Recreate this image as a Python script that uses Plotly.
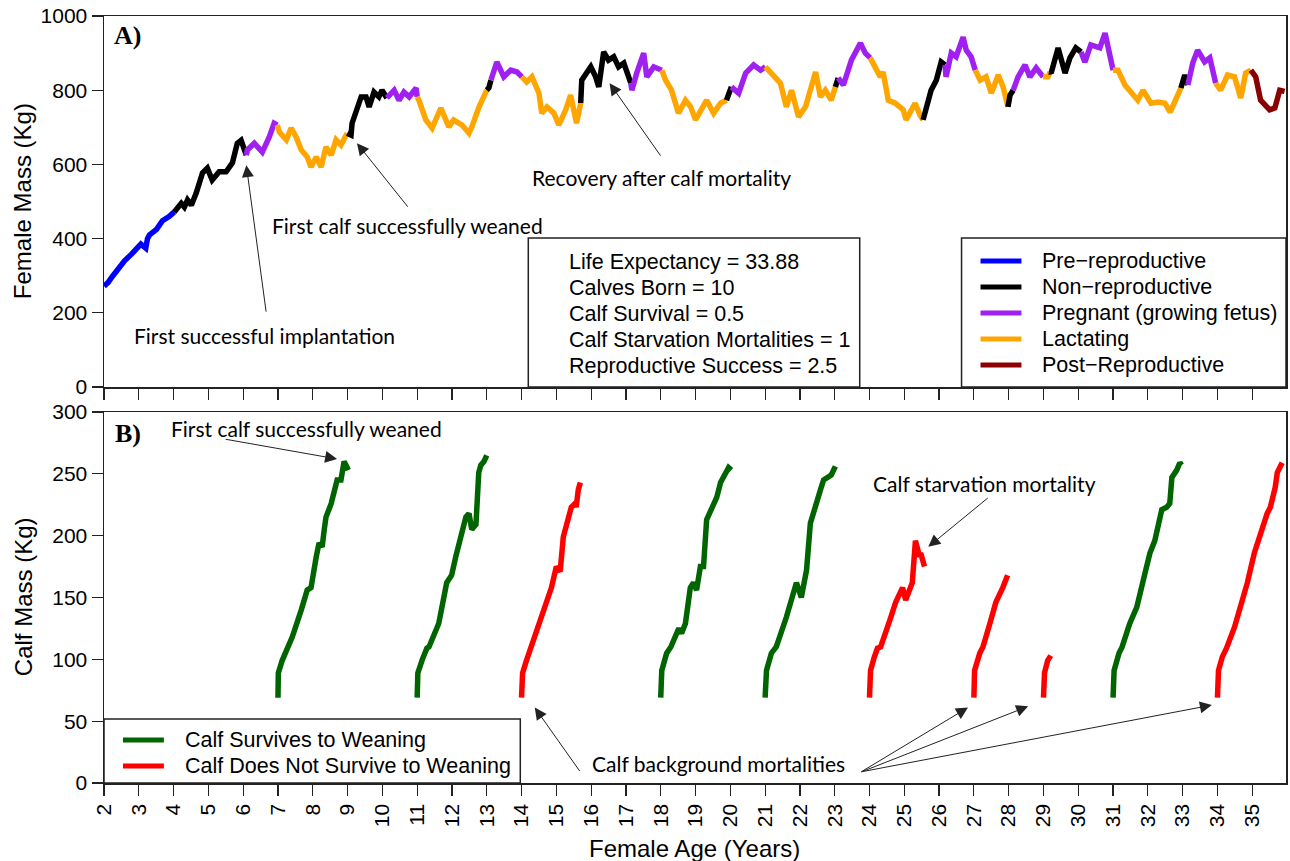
import plotly.graph_objects as go

# ---------------- DATA ----------------
female_age = [
    2.00, 2.12, 2.24, 2.39, 2.52, 2.59, 2.79, 2.96, 3.06, 3.12, 3.20, 3.25, 3.31, 3.51, 3.60, 3.68, 3.88, 4.02,
    4.10, 4.22, 4.31, 4.40, 4.51, 4.65, 4.83, 4.97, 5.11, 5.31, 5.51, 5.69, 5.83, 5.94, 6.09,
    6.12, 6.32, 6.55, 6.75, 6.89, 6.98,
    7.04, 7.24, 7.38, 7.52, 7.67, 7.84, 7.95, 8.10, 8.24, 8.38, 8.53, 8.67, 8.81, 8.99,
    9.10, 9.13, 9.27, 9.39, 9.53, 9.62, 9.76, 9.90, 9.99, 10.13,
    10.34, 10.48, 10.62, 10.77, 10.97, 11.00,
    11.05, 11.25, 11.43, 11.68, 11.91, 12.05, 12.29, 12.49, 12.57, 12.78, 13.00,
    13.06, 13.12,
    13.29, 13.49, 13.69, 13.87, 14.01,
    14.15, 14.30, 14.50, 14.58, 14.73, 14.93, 15.07, 15.27, 15.41, 15.58, 15.70,
    15.73, 15.99, 16.13, 16.22, 16.36, 16.50, 16.65, 16.79, 16.94, 17.14,
    17.17, 17.31, 17.51, 17.60, 17.80, 18.03,
    18.14, 18.31, 18.51, 18.71, 18.86, 19.00, 19.17, 19.32, 19.52, 19.72, 19.89,
    20.03,
    20.24, 20.44, 20.67, 20.87, 21.01,
    21.18, 21.44, 21.61, 21.76, 21.96, 22.16, 22.45, 22.59, 22.73, 22.90, 23.02,
    23.10,
    23.25, 23.48, 23.74, 23.88, 24.02,
    24.17, 24.31, 24.39, 24.54, 24.74, 24.97, 25.05, 25.31, 25.45, 25.54,
    25.63, 25.77, 25.92, 26.06, 26.17,
    26.20, 26.35, 26.49, 26.69, 26.78, 26.92, 27.04,
    27.18, 27.35, 27.50, 27.70, 27.84, 27.98,
    28.04, 28.13,
    28.27, 28.47, 28.61, 28.79, 28.99,
    29.13, 29.19,
    29.22, 29.42, 29.62, 29.76, 29.93, 30.08,
    30.19, 30.36, 30.62, 30.77, 30.91, 31.00,
    31.14, 31.34, 31.51, 31.71, 31.86, 32.09, 32.29, 32.49, 32.64, 32.78, 32.95,
    33.06, 33.15,
    33.29, 33.43, 33.63, 33.78, 33.95,
    34.09, 34.29, 34.49, 34.67, 34.81, 34.96,
    35.10, 35.24, 35.39, 35.50, 35.65, 35.79, 35.93,
]
female_mass = [
    272, 282, 298, 318, 335, 340, 358, 376, 385, 380, 374, 400, 410, 425, 440, 448, 460, 472,
    480, 495, 485, 504, 490, 523, 577, 590, 558, 580, 580, 604, 657, 665, 625,
    639, 657, 633, 674, 711, 706,
    687, 666, 698, 674, 639, 620, 593, 620, 593, 647, 625, 666, 652, 684,
    679, 711, 747, 782, 782, 755, 795, 782, 800, 779,
    800, 773, 795, 782, 806, 782,
    773, 720, 698, 752, 701, 720, 706, 684, 701, 755, 800,
    806, 827,
    876, 836, 854, 849, 836,
    822, 836, 792, 738, 755, 738, 706, 747, 787, 711, 765,
    827, 863, 836, 809, 903, 881, 890, 863, 873, 819,
    800, 846, 900, 836, 863, 854,
    827, 800, 738, 773, 755, 720, 747, 773, 738, 765, 773,
    809,
    792, 846, 868, 854, 863,
    846, 819, 755, 800, 728, 755, 849, 782, 800, 773, 809,
    833,
    814, 881, 927, 900, 887,
    863, 836, 849, 773, 765, 747, 720, 765, 733, 720,
    755, 800, 827, 876, 868,
    836, 900, 890, 943, 908, 890, 854,
    827, 836, 792, 841, 809, 755,
    787, 800,
    836, 868, 836, 860, 836,
    836, 849,
    846, 914, 846, 887, 914, 903,
    876, 922, 914, 954, 881, 854,
    854, 814, 795, 773, 800, 765, 768, 765, 741, 768, 806,
    841, 814,
    873, 908, 876, 887, 819,
    800, 841, 836, 779, 846, 854,
    836, 773, 760, 747, 752, 800, 797,
]
female_state = (
    ["Pre"] * 18 + ["Non"] * 15 + ["Preg"] * 6 + ["Lac"] * 14 + ["Non"] * 10 + ["Preg"] * 6
    + ["Lac"] * 11 + ["Non"] * 2 + ["Preg"] * 5 + ["Lac"] * 11 + ["Non"] * 10 + ["Preg"] * 6
    + ["Lac"] * 11 + ["Non"] * 1 + ["Preg"] * 5 + ["Lac"] * 11 + ["Non"] * 1 + ["Preg"] * 5
    + ["Lac"] * 10 + ["Non"] * 5 + ["Preg"] * 7 + ["Lac"] * 6 + ["Non"] * 2 + ["Preg"] * 5
    + ["Lac"] * 2 + ["Non"] * 6 + ["Preg"] * 6 + ["Lac"] * 11 + ["Non"] * 2 + ["Preg"] * 5
    + ["Lac"] * 6 + ["Post"] * 7
)

state_names = ["Pre\u2212reproductive", "Non\u2212reproductive", "Pregnant (growing fetus)", "Lactating", "Post\u2212Reproductive"]
state_keys = ["Pre", "Non", "Preg", "Lac", "Post"]

calf_ages = [
    [7.00, 7.01, 7.12, 7.27, 7.32, 7.41, 7.67, 7.84, 7.95, 7.98, 8.10, 8.18, 8.27, 8.33, 8.38, 8.53, 8.61, 8.70, 8.81, 8.90, 8.99, 9.02],
    [11.00, 11.02, 11.15, 11.28, 11.34, 11.62, 11.85, 11.99, 12.11, 12.26, 12.40, 12.49, 12.57, 12.69, 12.77, 12.83, 12.92, 13.00],
    [14.00, 14.03, 14.14, 14.26, 14.40, 14.57, 14.72, 14.86, 15.00, 15.11, 15.20, 15.35, 15.43, 15.54, 15.57, 15.63, 15.69],
    [18.00, 18.03, 18.17, 18.29, 18.52, 18.60, 18.71, 18.85, 18.94, 19.03, 19.14, 19.23, 19.32, 19.46, 19.61, 19.72, 19.86, 19.95, 20.03],
    [21.00, 21.04, 21.18, 21.32, 21.61, 21.81, 21.90, 22.04, 22.16, 22.19, 22.30, 22.45, 22.59, 22.68, 22.82, 22.90, 23.02],
    [24.00, 24.03, 24.14, 24.23, 24.32, 24.52, 24.60, 24.75, 24.86, 24.95, 25.04, 25.15, 25.23, 25.32, 25.44, 25.47, 25.58],
    [27.00, 27.02, 27.17, 27.26, 27.46, 27.63, 27.83, 27.97],
    [29.00, 29.03, 29.12, 29.21],
    [31.00, 31.03, 31.17, 31.26, 31.48, 31.68, 31.92, 32.06, 32.20, 32.32, 32.40, 32.54, 32.63, 32.69, 32.83, 32.92, 32.97],
    [34.00, 34.03, 34.14, 34.26, 34.49, 34.66, 34.86, 35.06, 35.24, 35.35, 35.43, 35.52, 35.66, 35.72, 35.86],
]
calf_masses = [
    [69, 89, 99, 109, 110, 118, 140, 156, 158, 164, 183, 194, 191, 205, 215, 226, 237, 245, 245, 260, 255, 253],
    [69, 89, 100, 109, 110, 129, 162, 168, 183, 199, 215, 218, 205, 209, 251, 257, 260, 265],
    [69, 89, 99, 109, 118, 134, 148, 158, 175, 171, 199, 215, 223, 226, 223, 237, 243],
    [69, 91, 105, 110, 125, 121, 129, 158, 162, 156, 175, 175, 213, 223, 231, 243, 251, 255, 253],
    [69, 91, 105, 110, 134, 154, 162, 150, 170, 172, 210, 226, 237, 245, 247, 249, 256],
    [69, 91, 102, 109, 110, 129, 133, 146, 154, 158, 148, 158, 162, 196, 183, 186, 175],
    [69, 91, 105, 110, 129, 146, 158, 168],
    [69, 89, 99, 103],
    [69, 91, 105, 110, 129, 142, 170, 186, 196, 210, 221, 223, 226, 247, 253, 259, 257],
    [69, 91, 102, 109, 126, 142, 162, 186, 202, 210, 218, 223, 239, 251, 259],
]
calf_survived = [True, True, False, True, True, False, False, False, True, False]
calf_names = ["Calf Survives to Weaning", "Calf Does Not Survive to Weaning"]

stats_lines = [
    "Life Expectancy = 33.88",
    "Calves Born = 10",
    "Calf Survival = 0.5",
    "Calf Starvation Mortalities = 1",
    "Reproductive Success = 2.5",
]

# ---------------- STYLE ----------------
state_colors = {"Pre": "#0000FF", "Non": "#000000", "Preg": "#A020F0", "Lac": "#FFA500", "Post": "#8B0000"}
calf_colors = {True: "#006400", False: "#FF0000"}
AX = "Liberation Sans, Arial, sans-serif"
ANN = "Lato, Open Sans, sans-serif"
LW = 5.5

fig = go.Figure()

start = 0
n = len(female_age)
for i in range(1, n + 1):
    if i == n or female_state[i] != female_state[start]:
        s0 = max(start - 1, 0)
        fig.add_trace(go.Scatter(
            x=female_age[s0:i], y=female_mass[s0:i], mode="lines",
            line=dict(color=state_colors[female_state[start]], width=LW),
            showlegend=False, xaxis="x", yaxis="y", hoverinfo="skip"))
        start = i

for ages, masses, surv in zip(calf_ages, calf_masses, calf_survived):
    fig.add_trace(go.Scatter(
        x=ages, y=masses, mode="lines",
        line=dict(color=calf_colors[surv], width=LW),
        showlegend=False, xaxis="x2", yaxis="y2", hoverinfo="skip"))

# the page body margin is removed after plotting (see post_script), so page pixels = figure pixels
W, H = 1290, 861
ML, MR, MT, MB = 104, 2, 16, 78
PW, PH = W - ML - MR, H - MT - MB
PLOT_BOTTOM = MT + PH


def px(xp):  # page pixel -> paper x
    return (xp - ML) / PW


def py(yp):  # page pixel -> paper y
    return (PLOT_BOTTOM - yp) / PH


ticks_x = list(range(2, 36))
axis_common = dict(showline=True, mirror=True, linecolor="#222", linewidth=1.5,
                   ticks="outside", ticklen=11, tickwidth=1.2, tickcolor="#222",
                   showgrid=False, zeroline=False,
                   tickfont=dict(family=AX, size=21, color="#000"))

fig.update_layout(
    width=W, height=H, paper_bgcolor="white", plot_bgcolor="white",
    margin=dict(l=ML, r=MR, t=MT, b=MB),
    xaxis=dict(domain=[0, 1], range=[2, 35.97], tickvals=ticks_x, showticklabels=False,
               anchor="y", **axis_common),
    yaxis=dict(domain=[py(387), 1], range=[0, 1000], tickvals=list(range(0, 1001, 200)),
               anchor="x", **axis_common),
    xaxis2=dict(domain=[0, 1], range=[2, 35.97], tickvals=ticks_x, tickangle=-90,
                anchor="y2", **axis_common),
    yaxis2=dict(domain=[0, py(412)], range=[0, 300], tickvals=list(range(0, 301, 50)),
                anchor="x2", **axis_common),
    showlegend=False,
)

shapes = []
ann = []


def text_ann(x, y, t, size, family=AX, xanchor="center", angle=0):
    return dict(xref="paper", yref="paper", x=x, y=y, text=t, showarrow=False, textangle=angle,
                xanchor=xanchor, yanchor="middle", font=dict(family=family, size=size, color="#000"))


# stats box
shapes.append(dict(type="rect", xref="paper", yref="paper", x0=px(529), x1=px(861), y0=py(387), y1=py(238),
                   line=dict(color="#222", width=1.5), fillcolor="white", layer="above"))
for k, t in enumerate(stats_lines):
    ann.append(text_ann(px(568), py(262 + 26 * k), t, 21.5, xanchor="left"))

# top legend
shapes.append(dict(type="rect", xref="paper", yref="paper", x0=px(963), x1=px(1288), y0=py(387), y1=py(238),
                   line=dict(color="#222", width=1.5), fillcolor="white", layer="above"))
for k, (key, name) in enumerate(zip(state_keys, state_names)):
    yy = py(261 + 26 * k)
    shapes.append(dict(type="line", xref="paper", yref="paper", x0=px(982), x1=px(1023), y0=yy, y1=yy,
                       line=dict(color=state_colors[key], width=5), layer="above"))
    ann.append(text_ann(px(1042), yy, name, 21.5, xanchor="left"))

# bottom legend
shapes.append(dict(type="rect", xref="paper", yref="paper", x0=px(104), x1=px(521), y0=py(783), y1=py(719),
                   line=dict(color="#222", width=1.5), fillcolor="white", layer="above"))
for k, (surv, name) in enumerate(zip([True, False], calf_names)):
    yy = py(740 + 26 * k)
    shapes.append(dict(type="line", xref="paper", yref="paper", x0=px(123), x1=px(164), y0=yy, y1=yy,
                       line=dict(color=calf_colors[surv], width=5), layer="above"))
    ann.append(text_ann(px(183), yy, name, 21.5, xanchor="left"))

# panel labels
SERIF = "Liberation Serif, Times New Roman, serif"
ann.append(text_ann(px(128), py(36), "<b>A)</b>", 26, family=SERIF))
ann.append(text_ann(px(128), py(433), "<b>B)</b>", 26, family=SERIF))

# axis titles
ann.append(text_ann(px(23), py(201), "Female Mass (Kg)", 24, angle=-90))
ann.append(text_ann(px(23), py(597), "Calf Mass (Kg)", 24, angle=-90))
ann.append(text_ann(px(695), py(848), "Female Age (Years)", 24))

# text notes
notes = [
    ("First successful implantation", 265, 335),
    ("First calf successfully weaned", 408, 225),
    ("Recovery after calf mortality", 662, 178),
    ("First calf successfully weaned", 307, 428),
    ("Calf starvation mortality", 986, 483),
    ("Calf background mortalities", 720, 763),
]
for t, xx, yy in notes:
    ann.append(text_ann(px(xx), py(yy), t, 21, family=ANN))

# arrows (head in data coords, tail offset in pixels)
arrows = [
    ("x", "y", 6.09, 598, 20, 148),
    ("x", "y", 9.27, 657, 52, 65),
    ("x", "y", 16.53, 819, 52, 74),
    ("x2", "y2", 8.70, 262, -113, -20),
    ("x2", "y2", 25.69, 191, 61, -50),
    ("x2", "y2", 14.38, 61, 46, 65),
    ("x2", "y2", 26.83, 61, -108, 65),
    ("x2", "y2", 28.56, 62, -168, 66),
    ("x2", "y2", 33.84, 63, -352, 67),
]
for xr, yr, hx, hy, axp, ayp in arrows:
    ann.append(dict(xref=xr, yref=yr, x=hx, y=hy, ax=axp, ay=ayp, text="", showarrow=True,
                    arrowhead=2, arrowsize=2.4, arrowwidth=1, arrowcolor="#222", standoff=0))

fig.update_layout(shapes=shapes, annotations=ann)
fig.write_html("out.html",
               config={"displayModeBar": False, "staticPlot": True},
               post_script="document.body.style.margin='0';document.body.style.overflow='hidden';")
